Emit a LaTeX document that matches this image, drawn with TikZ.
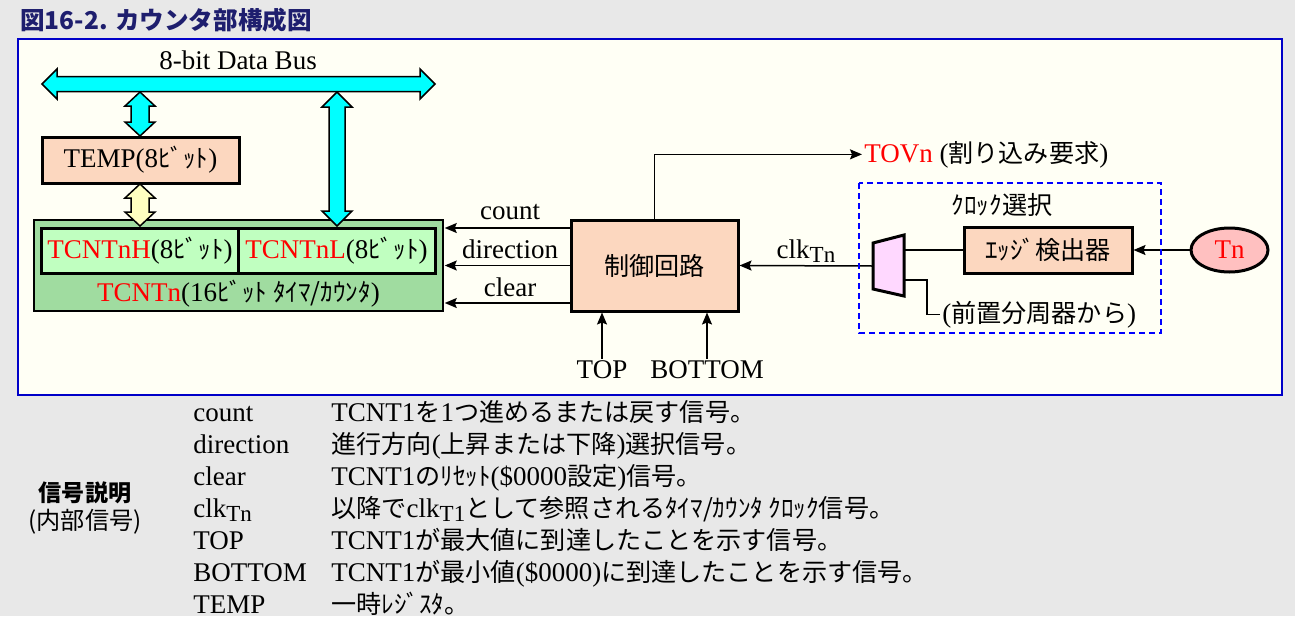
\documentclass[tikz,border=0pt]{standalone}
\usepackage{fontspec}
\setmainfont{Liberation Serif}
\newfontfamily\jp[Scale=0.93]{Noto Sans CJK JP}
\usepackage{xcolor}
\usepackage{tikz}
\usetikzlibrary{arrows.meta,shapes.geometric,calc}

\definecolor{bggray}{HTML}{E8E8E8}
\definecolor{panelivory}{HTML}{FFFFF5}
\definecolor{frameblue}{HTML}{0000C8}
\definecolor{titleblue}{HTML}{1E1E6E}
\definecolor{buscyan}{HTML}{00FFFF}
\definecolor{tempyellow}{HTML}{FFFFC0}
\definecolor{peach}{HTML}{FCD7BF}
\definecolor{cntgreen}{HTML}{A0DCA0}
\definecolor{reggreen}{HTML}{C0FFC0}
\definecolor{muxpink}{HTML}{FFD8FF}
\definecolor{tnpink}{HTML}{FFC0C0}
\definecolor{sigred}{HTML}{FF0000}

\newcommand\lowsub[1]{\raisebox{-0.35ex}{\fontsize{11.5pt}{12pt}\selectfont #1}}

\begin{document}
\begin{tikzpicture}[
    x=0.5pt, y=-0.5pt,
    font=\fontsize{13.5pt}{16pt}\selectfont,
    regbox/.style={draw, line width=1.5pt, fill=peach, inner sep=0pt},
    cntbox/.style={draw, line width=1.5pt, fill=reggreen, inner sep=0pt, minimum width=98.5pt, minimum height=22.5pt},
    fat/.style={draw, line width=0.75pt, line join=miter},
    sig/.style={line width=0.75pt, -{Stealth[length=6pt, width=5pt, inset=1pt]}},
    wire/.style={line width=0.75pt},
    lbl/.style={inner sep=1pt},
    legend/.style={anchor=base west, inner sep=0pt}
]

% background and frame
\fill[bggray] (0,0) rectangle (1295,616);
\draw[frameblue, line width=1pt, fill=panelivory] (18,38.5) rectangle (1282,395);
\node[anchor=west, inner sep=0pt, text=titleblue, font=\jp\bfseries\fontsize{13.2pt}{15pt}\selectfont] (title) at (20,20) {図16-2. カウンタ部構成図};

% registers
\node[regbox, minimum width=98.5pt, minimum height=23pt] (temp) at (140.5,160) {TEMP(8{\jp ﾋﾞｯﾄ})};
\node[draw, line width=0.75pt, fill=cntgreen, minimum width=204.5pt, minimum height=45.5pt, inner sep=0pt] (tcnt) at (238.5,265.5) {};
\node[cntbox] (tcnth) at (140,250.5) {\textcolor{sigred}{TCNTnH}(8{\jp ﾋﾞｯﾄ})};
\node[cntbox] (tcntl) at (336.5,250.5) {\textcolor{sigred}{TCNTnL}(8{\jp ﾋﾞｯﾄ})};
\node[lbl] (tcntlbl) at (238.5,294) {\textcolor{sigred}{TCNTn}(16{\jp ﾋﾞｯﾄ ﾀｲﾏ/ｶｳﾝﾀ})};

% control and clock select
\node[regbox, minimum width=83.5pt, minimum height=45.5pt] (ctrl) at (654.5,265.5) {{\jp 制御回路}};
\node[regbox, minimum width=84pt, minimum height=23pt] (edge) at (1048,250) {{\jp ｴｯｼﾞ検出器}};
\node[ellipse, draw, line width=1.5pt, fill=tnpink, minimum width=38.5pt, minimum height=22pt, inner sep=0pt, text=sigred] (tn) at (1229.5,250) {Tn};
\node[lbl] (clksel) at (1002,205) {{\jp ｸﾛｯｸ選択}};
\node[lbl, anchor=base west] (presc) at (940,322) {({\jp 前置分周器から})};

\draw[line width=1.5pt, fill=muxpink, line join=miter] (873,243) -- (904,235) -- (904,296) -- (873,289) -- cycle;
\coordinate (muxin) at (873,266);
\coordinate (muxa) at (904,250);
\coordinate (muxb) at (904,280);

% labels
\node[lbl] (buslbl) at (238,60) {8-bit Data Bus};
\node[lbl, anchor=base] (cntlbl) at (510,219) {count};
\node[lbl, anchor=base] (dirlbl) at (510,258) {direction};
\node[lbl, anchor=base] (clrlbl) at (510,296) {clear};
\node[lbl, anchor=base] (clklbl) at (806,258) {clk\lowsub{Tn}};
\node[lbl] (top) at (602,370) {TOP};
\node[lbl] (bottom) at (707,370) {BOTTOM};
\node[lbl, anchor=base west] (tovn) at (862,162) {\textcolor{sigred}{TOVn} ({\jp 割り込み要求})};

% signals
\draw[sig] ($(ctrl.west)+(0,-37.5)$) -- ($(tcnt.east)+(1,-37.5)$);
\draw[sig] (ctrl.west) -- ($(tcnt.east)+(1,0)$);
\draw[sig] ($(ctrl.west)+(0,37.5)$) -- ($(tcnt.east)+(1,37.5)$);
\draw[sig] (ctrl.north) |- (tovn.west);
\draw[sig] (muxin) -- (ctrl.east);
\draw[wire] (muxa) -- (edge.west);
\draw[sig] (tn.west) -- (edge.east);
\draw[wire] (muxb) -- ++(23,0) |- (presc.west);
\draw[sig] (top.north) -- (top.north |- ctrl.south);
\draw[sig] (bottom.north) -- (bottom.north |- ctrl.south);

\draw[blue, line width=1pt, dash pattern=on 3pt off 2pt] (859,183) rectangle (1161,333);

% data bus
\draw[fat, fill=buscyan] (42,84) -- (57,69) -- (57,76.5) -- (420,76.5) -- (420,69) -- (435,84)
  -- (420,99) -- (420,91.5) -- (57,91.5) -- (57,99) -- cycle;
\draw[fat, fill=buscyan] (140,92) -- (155,106) -- (149,106) -- (149,122) -- (155,122) -- (140,136)
  -- (125,122) -- (131,122) -- (131,106) -- (125,106) -- cycle;
\draw[fat, fill=tempyellow] (140,184) -- (155,198) -- (149,198) -- (149,212) -- (155,212) -- (140,226)
  -- (125,212) -- (131,212) -- (131,198) -- (125,198) -- cycle;
\draw[fat, fill=buscyan] (337,92) -- (352,107) -- (345,107) -- (345,211) -- (352,211) -- (337,226)
  -- (322,211) -- (329,211) -- (329,107) -- (322,107) -- cycle;

% legend
\node[inner sep=0pt, font=\jp\bfseries\fontsize{12.4pt}{14pt}\selectfont] (sigdesc) at (85,493) {信号説明};
\node[inner sep=0pt, font=\jp\fontsize{13pt}{15pt}\selectfont] (sigint) at (85,522) {(内部信号)};

\node[legend] (n1) at (193,421) {count};
\node[legend] (d1) at (331,421) {TCNT1{\jp を}1{\jp つ進めるまたは戻す信号。}};
\node[legend] (n2) at (193,453) {direction};
\node[legend] (d2) at (331,453) {{\jp 進行方向}({\jp 上昇または下降}){\jp 選択信号。}};
\node[legend] (n3) at (193,485) {clear};
\node[legend] (d3) at (331,485) {TCNT1{\jp のﾘｾｯﾄ}(\$0000{\jp 設定}){\jp 信号。}};
\node[legend] (n4) at (193,517) {clk\lowsub{Tn}};
\node[legend] (d4) at (331,517) {{\jp 以降で}clk\lowsub{T1}{\jp として参照されるﾀｲﾏ/ｶｳﾝﾀ ｸﾛｯｸ信号。}};
\node[legend] (n5) at (193,549) {TOP};
\node[legend] (d5) at (331,549) {TCNT1{\jp が最大値に到達したことを示す信号。}};
\node[legend] (n6) at (193,581) {BOTTOM};
\node[legend] (d6) at (331,581) {TCNT1{\jp が最小値}(\$0000){\jp に到達したことを示す信号。}};
\node[legend] (n7) at (193,613) {TEMP};
\node[legend] (d7) at (331,613) {{\jp 一時ﾚｼﾞｽﾀ。}};

\end{tikzpicture}
\end{document}
